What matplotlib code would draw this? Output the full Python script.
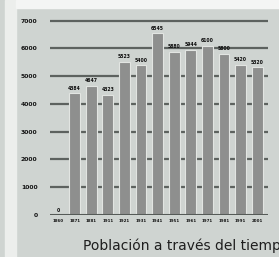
import matplotlib
matplotlib.use("Agg")
import matplotlib.pyplot as plt
from matplotlib.patches import Rectangle

years = ["1860", "1871", "1881", "1911", "1921", "1931", "1941",
         "1951", "1961", "1971", "1981", "1991", "2001"]
population = [0, 4384, 4647, 4323, 5523, 5400, 6545, 5880, 5944, 6100, 5800, 5420, 5320]
yticks = [0, 1000, 2000, 3000, 4000, 5000, 6000, 7000]
title = "Población a través del tiempo"

W, H = 279, 257
fig = plt.figure(figsize=(W / 100, H / 100), dpi=100)
fig.patch.set_facecolor("#cfd4d1")

# white strips (top and left) seen in the photo
fig.patches.append(Rectangle((5 / W, 0), 11 / W, 1, transform=fig.transFigure,
                             color="#eceeec", zorder=0))
fig.patches.append(Rectangle((16 / W, 1 - 8 / H), 1, 8 / H, transform=fig.transFigure,
                             color="#f4f5f4", zorder=0))

ax = fig.add_axes([50 / W, 42 / H, 218 / W, 0.7778])
ax.set_facecolor("none")
x = list(range(len(years)))
ax.bar(x, population, width=0.66, color="#8e8f8e", edgecolor="#e2e5e2",
       linewidth=0.8, zorder=2)
for xi, v in zip(x, population):
    ax.text(xi, v + 90, str(v), ha="center", va="bottom", fontsize=3.3,
            fontweight="bold", color="#0d0d0d", zorder=3)

for t in yticks[1:]:
    ax.axhline(t, color="#5d625f", lw=1.6, zorder=1)
ax.axhline(0, color="#555a57", lw=2.2, zorder=3)

ax.set_xlim(-0.48, 12.65)
ax.set_ylim(0, 7200)
ax.set_yticks(yticks)
ax.set_yticklabels([str(t) for t in yticks], fontsize=4.4, fontweight="bold",
                   color="#151515")
ax.set_xticks(x)
ax.set_xticklabels(years, fontsize=2.9, fontweight="bold", color="#151515")
ax.tick_params(axis="y", length=0, pad=9)
ax.tick_params(axis="x", length=0, pad=3)
for s in ax.spines.values():
    s.set_visible(False)

fig.text(83 / W, 1 - 250 / H, title, fontsize=10, color="#1e1e1e",
         ha="left", va="baseline")

fig.savefig("out.png", dpi=100, facecolor=fig.get_facecolor())
